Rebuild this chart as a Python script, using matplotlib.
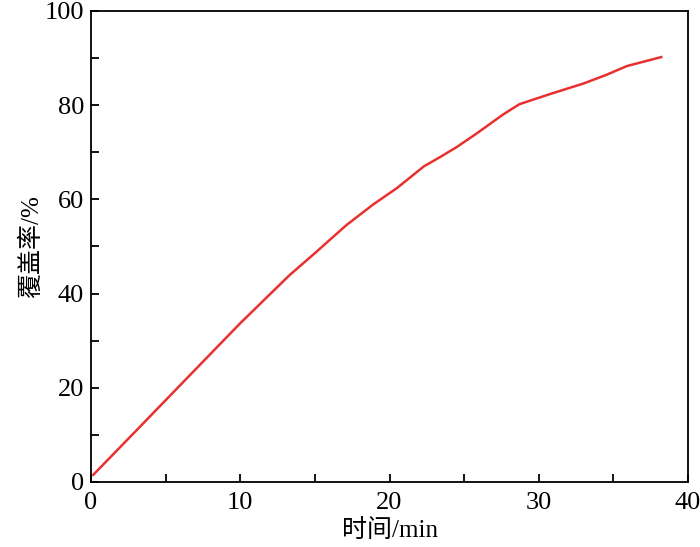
import matplotlib
matplotlib.use('Agg')
import matplotlib.pyplot as plt
from matplotlib.ticker import MultipleLocator

plt.rcParams['font.family'] = ['Liberation Serif', 'Noto Sans CJK SC']

# coverage vs time
time_min = [0.15, 3.0, 6.3, 10.0, 13.3, 14.9, 17.1, 18.9, 20.5, 22.3, 23.4,
            24.5, 25.8, 27.6, 28.7, 30.7, 33.0, 34.5, 35.9, 38.2]
coverage = [1.5, 10.8, 21.6, 33.7, 43.9, 48.3, 54.5, 58.9, 62.4, 67.0, 69.0,
            71.1, 73.9, 78.0, 80.2, 82.3, 84.6, 86.4, 88.3, 90.2]

fig = plt.figure(figsize=(7, 5.47), dpi=100)
ax = fig.add_axes([0.130, 0.119, 0.853, 0.861])

ax.plot(time_min, coverage, color='#e8312f', lw=1.8)

ax.set_xlim(0, 40)
ax.set_ylim(0, 100)
ax.xaxis.set_major_locator(MultipleLocator(10))
ax.xaxis.set_minor_locator(MultipleLocator(5))
ax.yaxis.set_major_locator(MultipleLocator(20))
ax.yaxis.set_minor_locator(MultipleLocator(10))
ax.tick_params(which='both', direction='in', length=6, width=1.3,
               top=False, right=False, labelsize=19)
ax.tick_params(axis='x', pad=7)
ax.tick_params(axis='y', pad=5)
for s in ax.spines.values():
    s.set_linewidth(1.3)

ax.set_xlabel('时间/min', fontsize=18, labelpad=4)
ax.set_ylabel('覆盖率/%', fontsize=18, labelpad=1)

fig.savefig('out.png', dpi=100)
